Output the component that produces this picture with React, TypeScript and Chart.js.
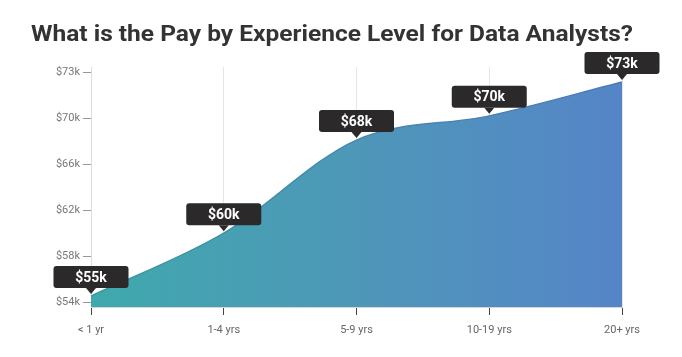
import { useEffect, useRef } from 'react';
import { Chart, registerables } from 'chart.js';

Chart.register(...registerables);

const titleText = 'What is the Pay by Experience Level for Data Analysts?';
const categories = ['< 1 yr', '1-4 yrs', '5-9 yrs', '10-19 yrs', '20+ yrs'];
const payK = [54.9, 60.1, 67.8, 69.8, 72.6];
const payLabels = ['$55k', '$60k', '$68k', '$70k', '$73k'];
const yTickValues = [54.4, 58.2, 62.0, 65.8, 69.6, 73.4];
const yTickLabels = ['$54k', '$58k', '$62k', '$66k', '$70k', '$73k'];
const yMin = 54;
const yMax = 73.84;

const titlePlugin = {
  id: 'customTitle',
  afterDraw(chart: any) {
    const ctx = chart.ctx;
    ctx.save();
    ctx.fillStyle = '#333333';
    ctx.font = 'bold 22px Roboto';
    ctx.textAlign = 'left';
    ctx.textBaseline = 'alphabetic';
    const natural = ctx.measureText(titleText).width;
    const targetWidth = 602;
    const sx = natural > 0 ? targetWidth / natural : 1;
    ctx.translate(31, 41);
    ctx.scale(sx, 1);
    ctx.fillText(titleText, 0, 0);
    ctx.restore();
  },
};

const valueBoxPlugin = {
  id: 'valueBoxes',
  afterDatasetsDraw(chart: any) {
    const meta = chart.getDatasetMeta(0);
    const ctx = chart.ctx;
    const w = 75;
    const h = 22;
    ctx.save();
    meta.data.forEach((pt: any, i: number) => {
      const x = pt.x;
      const y = pt.y;
      const bottom = y - 8;
      const top = bottom - h;
      const left = x - w / 2;
      ctx.fillStyle = '#2b2929';
      ctx.beginPath();
      if (ctx.roundRect) {
        ctx.roundRect(left, top, w, h, 3);
      } else {
        ctx.rect(left, top, w, h);
      }
      ctx.fill();
      ctx.beginPath();
      ctx.moveTo(x - 5, bottom);
      ctx.lineTo(x + 5, bottom);
      ctx.lineTo(x, bottom + 6);
      ctx.closePath();
      ctx.fill();
      ctx.fillStyle = '#ffffff';
      ctx.font = 'bold 14px Roboto';
      ctx.textAlign = 'center';
      ctx.textBaseline = 'middle';
      ctx.fillText(payLabels[i], x, top + h / 2 + 1);
    });
    ctx.restore();
  },
};

function makeGradient(chart: any, stops: string[]) {
  const { ctx, chartArea } = chart;
  if (!chartArea) return stops[0];
  const g = ctx.createLinearGradient(chartArea.left, 0, chartArea.right, 0);
  g.addColorStop(0, stops[0]);
  g.addColorStop(0.5, stops[1]);
  g.addColorStop(1, stops[2]);
  return g;
}

export default function App() {
  const ref = useRef<HTMLCanvasElement | null>(null);

  useEffect(() => {
    if (!ref.current) return;
    const chart = new Chart(ref.current, {
      type: 'line',
      data: {
        labels: categories,
        datasets: [
          {
            data: payK,
            fill: 'start',
            cubicInterpolationMode: 'monotone',
            borderWidth: 1.5,
            pointRadius: 0,
            borderColor: (c: any) => makeGradient(c.chart, ['#3a98a0', '#4788ad', '#4c78bb']),
            backgroundColor: (c: any) => makeGradient(c.chart, ['#3fa9ad', '#4e97b8', '#5585c8']),
          },
        ],
      },
      options: {
        responsive: false,
        animation: false,
        layout: { padding: { left: 31, right: 60, top: 67, bottom: 0 } },
        plugins: {
          legend: { display: false },
          tooltip: { enabled: false },
          title: { display: false },
        },
        scales: {
          x: {
            z: 1,
            offset: false,
            afterFit: (s: any) => {
              s.height = 50;
            },
            grid: {
              color: 'rgba(0,0,0,0.1)',
              tickColor: '#444',
              tickLength: 8,
              drawTicks: true,
            },
            border: { color: '#d6d6d6' },
            ticks: {
              color: '#666',
              font: { family: 'Roboto', size: 11 },
              padding: 9,
              maxRotation: 0,
            },
          },
          y: {
            min: yMin,
            max: yMax,
            afterFit: (s: any) => {
              s.width = 60;
            },
            afterBuildTicks: (s: any) => {
              s.ticks = yTickValues.map((v) => ({ value: v }));
            },
            grid: {
              drawOnChartArea: false,
              tickColor: '#999',
              tickLength: 8,
            },
            border: { color: '#dddddd' },
            ticks: {
              color: '#777',
              font: { family: 'Roboto', size: 11 },
              padding: 3,
              callback: (_v: any, i: number) => yTickLabels[i],
            },
          },
        },
      },
      plugins: [valueBoxPlugin, titlePlugin],
    } as any);
    return () => chart.destroy();
  }, []);

  return (
    <div style={{ position: 'fixed', left: 0, top: 0, width: 682, height: 357, background: '#fff' }}>
      <canvas ref={ref} width={682} height={357} style={{ display: 'block' }} />
    </div>
  );
}
